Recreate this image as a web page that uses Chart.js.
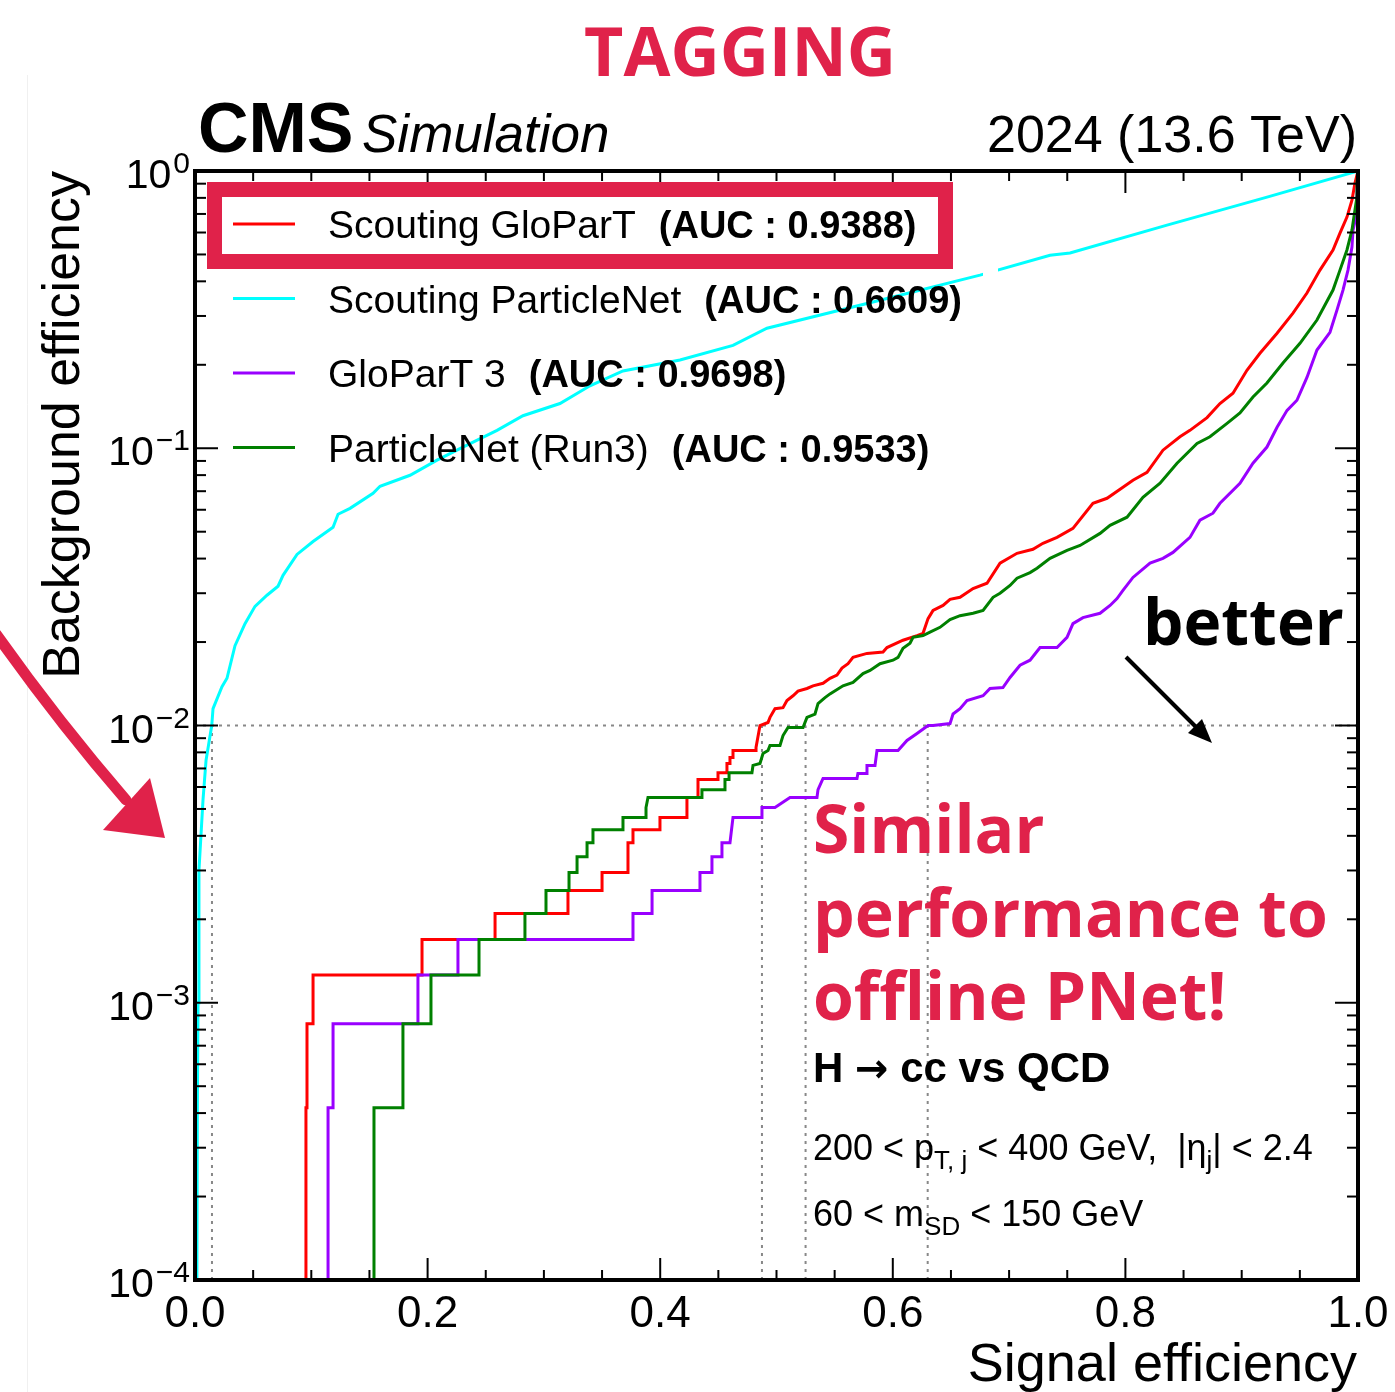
<!DOCTYPE html>
<html>
<head>
<meta charset="utf-8">
<script src="https://cdn.jsdelivr.net/npm/chart.js@4.4.1/dist/chart.umd.min.js"></script>
<style>
	html, body { margin: 0; padding: 0; background: #fff; }
	#wrap { width: 1395px; height: 1392px; }
</style>
</head>
<body>
<div id="wrap"><canvas id="rocCurves" width="1395" height="1392"></canvas></div>
<script>
'use strict'

// ROC curves, H->cc vs QCD. Signal efficiency on x, background efficiency on y (log).
// 1e-5 marks "no background left" (below the plotted range).

const scoutGloParTSig = [0.0954, 0.0954, 0.0963, 0.0963, 0.1015, 0.1015, 0.1952, 0.1952, 0.2580, 0.2580, 0.3207, 0.3207, 0.3500, 0.3500, 0.3723, 0.3723, 0.3766, 0.3766, 0.3998, 0.3998, 0.4230, 0.4230, 0.4325, 0.4325, 0.4497, 0.4497, 0.4574, 0.4574, 0.4600, 0.4600, 0.4626, 0.4626, 0.4824, 0.4824,
	0.4858, 0.4927, 0.4944, 0.4987, 0.5056, 0.5090, 0.5142, 0.5185, 0.5262, 0.5314, 0.5400, 0.5460, 0.5520, 0.5563, 0.5615, 0.5658, 0.5778, 0.5916, 0.5950, 0.6088, 0.6208, 0.6260, 0.6303, 0.6346, 0.6432, 0.6492, 0.6578, 0.6690, 0.6810, 0.6922,
	0.7068, 0.7205, 0.7291, 0.7412, 0.7549, 0.7721, 0.7842, 0.7979, 0.8065, 0.8186, 0.8323, 0.8469, 0.8555, 0.8702, 0.8813, 0.8925, 0.9045, 0.9157, 0.9304, 0.9441, 0.9561, 0.9673, 0.9785, 0.9845, 0.9905, 0.9948, 0.9974, 1.0];
const scoutGloParTBkg = [1e-5, 4.18e-4, 4.18e-4, 8.40e-4, 8.40e-4, 1.26e-3, 1.26e-3, 1.69e-3, 1.69e-3, 2.10e-3, 2.10e-3, 2.54e-3, 2.54e-3, 2.95e-3, 2.95e-3, 3.78e-3, 3.78e-3, 4.21e-3, 4.21e-3, 4.66e-3, 4.66e-3, 5.50e-3, 5.50e-3, 6.38e-3, 6.38e-3, 6.76e-3, 6.76e-3, 7.29e-3, 7.29e-3, 7.66e-3, 7.66e-3, 8.12e-3, 8.12e-3, 8.33e-3,
	1.0e-2, 1.025e-2, 1.07e-2, 1.15e-2, 1.16e-2, 1.23e-2, 1.28e-2, 1.33e-2, 1.36e-2, 1.39e-2, 1.42e-2, 1.48e-2, 1.52e-2, 1.61e-2, 1.67e-2, 1.76e-2, 1.82e-2, 1.84e-2, 1.91e-2, 2.03e-2, 2.11e-2, 2.15e-2, 2.43e-2, 2.60e-2, 2.71e-2, 2.85e-2, 2.90e-2, 3.12e-2, 3.26e-2, 3.85e-2,
	4.18e-2, 4.32e-2, 4.54e-2, 4.77e-2, 5.14e-2, 6.33e-2, 6.60e-2, 7.23e-2, 7.67e-2, 8.19e-2, 9.84e-2, 0.110, 0.116, 0.129, 0.145, 0.158, 0.191, 0.220, 0.260, 0.307, 0.363, 0.439, 0.519, 0.597, 0.682, 0.785, 0.905, 1.0];

const scoutPNetSig = [0.001, 0.002, 0.0026, 0.0034, 0.0069, 0.0095, 0.0144, 0.0155, 0.0232, 0.0275, 0.0344, 0.0430, 0.0516, 0.0619, 0.0714, 0.0757, 0.0877, 0.1015, 0.1187, 0.1230,
	0.1333, 0.1531, 0.1591, 0.1849, 0.2081, 0.2304, 0.2597, 0.2820, 0.3138, 0.3396, 0.3680, 0.4170, 0.4626, 0.4918, 0.5890, 0.6750, 0.7352, 0.7524, 0.8358, 0.9218, 1.0];
const scoutPNetBkg = [1e-5, 4e-4, 1e-3, 3.0e-3, 5.4e-3, 7.5e-3, 1.0e-2, 1.15e-2, 1.38e-2, 1.48e-2, 1.94e-2, 2.33e-2, 2.69e-2, 2.95e-2, 3.18e-2, 3.48e-2, 4.14e-2, 4.61e-2, 5.19e-2, 5.78e-2,
	6.07e-2, 6.88e-2, 7.29e-2, 7.99e-2, 9.06e-2, 0.101, 0.116, 0.131, 0.145, 0.168, 0.190, 0.208, 0.235, 0.271, 0.342, 0.421, 0.497, 0.506, 0.638, 0.805, 1.0];

const gloParT3Sig = [0.1144, 0.1144, 0.1187, 0.1187, 0.1917, 0.1917, 0.2261, 0.2261, 0.3766, 0.3766, 0.3930, 0.3930, 0.4342, 0.4342, 0.4445, 0.4445, 0.4531, 0.4531, 0.4600, 0.4626, 0.4875, 0.4875, 0.4987, 0.5116,
	0.5348, 0.5357, 0.5400, 0.5692, 0.5700, 0.5778, 0.5778, 0.5847, 0.5864, 0.6045, 0.6122, 0.6208, 0.6303, 0.6346, 0.6492, 0.6518, 0.6578, 0.6638, 0.6776, 0.6836, 0.6947, 0.7008, 0.7094, 0.7180, 0.7266, 0.7412,
	0.7498, 0.7549, 0.7635, 0.7782, 0.7868, 0.7928, 0.7979, 0.8065, 0.8212, 0.8323, 0.8409, 0.8555, 0.8641, 0.8753, 0.8813, 0.8985, 0.9097, 0.9217, 0.9304, 0.9390, 0.9475, 0.9561, 0.9647, 0.9759, 0.9819, 0.9871, 0.9914, 0.9948, 0.9957, 0.9983, 1.0];
const gloParT3Bkg = [1e-5, 4.18e-4, 4.18e-4, 8.40e-4, 8.40e-4, 1.26e-3, 1.26e-3, 1.69e-3, 1.69e-3, 2.10e-3, 2.10e-3, 2.54e-3, 2.54e-3, 2.95e-3, 2.95e-3, 3.36e-3, 3.36e-3, 3.78e-3, 3.78e-3, 4.66e-3, 4.66e-3, 5.06e-3, 5.06e-3, 5.50e-3,
	5.50e-3, 5.87e-3, 6.44e-3, 6.44e-3, 6.71e-3, 6.71e-3, 7.18e-3, 7.18e-3, 8.12e-3, 8.12e-3, 8.83e-3, 9.36e-3, 1.0e-2, 1.0e-2, 1.016e-2, 1.10e-2, 1.15e-2, 1.23e-2, 1.28e-2, 1.36e-2, 1.37e-2, 1.49e-2, 1.65e-2, 1.72e-2, 1.91e-2, 1.91e-2,
	2.08e-2, 2.33e-2, 2.45e-2, 2.54e-2, 2.71e-2, 2.87e-2, 3.07e-2, 3.42e-2, 3.85e-2, 4.01e-2, 4.21e-2, 4.77e-2, 5.50e-2, 5.83e-2, 6.33e-2, 7.48e-2, 8.83e-2, 0.101, 0.119, 0.137, 0.149, 0.180, 0.226, 0.262, 0.315, 0.372, 0.439, 0.532, 0.612, 0.682, 1.0];

const pNetRun3Sig = [0.1539, 0.1539, 0.1788, 0.1788, 0.2029, 0.2029, 0.2442, 0.2442, 0.2837, 0.2837, 0.3018, 0.3018, 0.3216, 0.3216, 0.3285, 0.3285, 0.3371, 0.3371, 0.3422, 0.3422, 0.3680, 0.3680, 0.3878, 0.3878, 0.3895,
	0.4359, 0.4359, 0.4557, 0.4557, 0.4592, 0.4592, 0.4789, 0.4798, 0.4858, 0.4884, 0.4927, 0.4944, 0.5030, 0.5056, 0.5099, 0.5228, 0.5262, 0.5331, 0.5357, 0.5417, 0.5460, 0.5572, 0.5658, 0.5744, 0.5804, 0.5890,
	0.6002, 0.6045, 0.6088, 0.6148, 0.6174, 0.6260, 0.6320, 0.6406, 0.6492, 0.6578, 0.6690, 0.6776, 0.6862, 0.6922, 0.7008, 0.7068, 0.7180, 0.7240, 0.7352, 0.7498, 0.7610, 0.7782, 0.7868, 0.8014, 0.8151,
	0.8298, 0.8444, 0.8616, 0.8727, 0.8874, 0.8985, 0.9097, 0.9217, 0.9355, 0.9501, 0.9647, 0.9785, 0.9845, 0.9905, 0.9948, 0.9974, 0.9991, 0.9991, 1.0];
const pNetRun3Bkg = [1e-5, 4.18e-4, 4.18e-4, 8.40e-4, 8.40e-4, 1.26e-3, 1.26e-3, 1.69e-3, 1.69e-3, 2.10e-3, 2.10e-3, 2.54e-3, 2.54e-3, 2.95e-3, 2.95e-3, 3.36e-3, 3.36e-3, 3.78e-3, 3.78e-3, 4.21e-3, 4.21e-3, 4.66e-3, 4.66e-3, 5.06e-3, 5.50e-3,
	5.50e-3, 5.87e-3, 5.87e-3, 6.38e-3, 6.38e-3, 6.76e-3, 6.76e-3, 7.18e-3, 7.29e-3, 7.92e-3, 8.12e-3, 8.47e-3, 8.47e-3, 9.20e-3, 9.84e-3, 9.84e-3, 1.07e-2, 1.10e-2, 1.20e-2, 1.26e-2, 1.30e-2, 1.39e-2, 1.43e-2, 1.54e-2, 1.58e-2, 1.67e-2,
	1.72e-2, 1.76e-2, 1.90e-2, 1.98e-2, 2.08e-2, 2.11e-2, 2.17e-2, 2.26e-2, 2.41e-2, 2.49e-2, 2.54e-2, 2.60e-2, 2.90e-2, 3.00e-2, 3.20e-2, 3.40e-2, 3.56e-2, 3.69e-2, 4.01e-2, 4.28e-2, 4.46e-2, 4.93e-2, 5.27e-2, 5.64e-2, 6.65e-2,
	7.48e-2, 8.83e-2, 0.104, 0.110, 0.123, 0.134, 0.153, 0.172, 0.203, 0.239, 0.290, 0.372, 0.439, 0.519, 0.612, 0.723, 0.806, 0.905, 1.0];

// working point: signal efficiency of each tagger at 1% background
const wpBkg = 0.01;
const wpSig = [0.0146, 0.4875, 0.525, 0.630];

const legendNames = ['Scouting GloParT', 'Scouting ParticleNet', 'GloParT 3', 'ParticleNet (Run3)'];
const legendAuc = ['0.9388', '0.6609', '0.9698', '0.9533'];
const legendColors = ['#ff0000', '#00ffff', '#9900ff', '#008000'];

const xTicks = [0, 0.2, 0.4, 0.6, 0.8, 1.0];
const xTickLabels = ['0.0', '0.2', '0.4', '0.6', '0.8', '1.0'];
const yTicks = [1, 1e-1, 1e-2, 1e-3, 1e-4];
const yTickExps = ['0', '\u22121', '\u22122', '\u22123', '\u22124'];

const HELV = '"Liberation Sans", Arial, Helvetica, sans-serif';
const SANS = '"Open Sans", "Noto Sans", sans-serif';
const accent = '#e0224a';

const toPoints = (xs, ys) => xs.map((v, i) => ({ x: v, y: ys[i] }));

const curves = [
	{ sig: scoutGloParTSig, bkg: scoutGloParTBkg, order: 3 },
	{ sig: scoutPNetSig, bkg: scoutPNetBkg, order: 2 },
	{ sig: gloParT3Sig, bkg: gloParT3Bkg, order: 1 },
	{ sig: pNetRun3Sig, bkg: pNetRun3Bkg, order: 0 },
];

const datasets = [];

// dotted guide lines for the 1% working point
datasets.push({
	data: [{ x: 0, y: wpBkg }, { x: 1, y: wpBkg }],
	borderColor: '#888', borderWidth: 2, borderDash: [3, 5], order: 10,
});
wpSig.forEach(s => {
	datasets.push({
		data: [{ x: s, y: 1e-4 }, { x: s, y: wpBkg }],
		borderColor: '#888', borderWidth: 2, borderDash: [3, 5], order: 10,
	});
});

curves.forEach((c, i) => {
	datasets.push({
		label: legendNames[i],
		data: toPoints(c.sig, c.bkg),
		borderColor: legendColors[i],
		borderWidth: 3,
		order: c.order,
	});
});

function seg(ctx, x1, y1, x2, y2) {
	ctx.beginPath();
	ctx.moveTo(x1, y1);
	ctx.lineTo(x2, y2);
	ctx.stroke();
}

function richText(ctx, x, y, parts) {
	let cx = x;
	parts.forEach(p => {
		ctx.font = p.font;
		ctx.fillText(p.text, cx, y + (p.dy || 0));
		cx += ctx.measureText(p.text).width;
	});
}

const rocDecor = {
	id: 'rocDecor',
	afterDraw(chart) {
		const { ctx, chartArea: { left, right, top, bottom }, scales: { x, y } } = chart;
		ctx.save();

		// edge of the pasted panel
		ctx.strokeStyle = '#f0f0f0';
		ctx.lineWidth = 1;
		seg(ctx, 27.5, 75, 27.5, 1392);

		// small white patch next to the legend
		ctx.fillStyle = '#fff';
		ctx.fillRect(983, 257, 15, 71);

		// frame
		ctx.strokeStyle = '#000';
		ctx.lineWidth = 4;
		ctx.strokeRect(left, top, right - left, bottom - top);

		// inward ticks
		ctx.lineWidth = 2;
		for (let i = 0; i <= 20; i++) {
			const px = x.getPixelForValue(i * 0.05);
			const len = i % 4 === 0 ? 22 : 10;
			seg(ctx, px, bottom, px, bottom - len);
			seg(ctx, px, top, px, top + len);
		}
		for (let d = -4; d <= 0; d++) {
			for (let k = 1; k <= 9; k++) {
				const v = k * Math.pow(10, d);
				if (v > 1) break;
				const py = y.getPixelForValue(v);
				const len = k === 1 ? 23 : 11;
				seg(ctx, left, py, left + len, py);
				seg(ctx, right, py, right - len, py);
			}
		}

		ctx.fillStyle = '#000';
		ctx.textBaseline = 'alphabetic';

		// x tick labels
		ctx.font = '44px ' + HELV;
		ctx.textAlign = 'center';
		xTicks.forEach((v, i) => ctx.fillText(xTickLabels[i], x.getPixelForValue(v), 1327));

		// y tick labels, 10 with exponent
		ctx.textAlign = 'left';
		yTicks.forEach((v, i) => {
			const py = y.getPixelForValue(v);
			ctx.font = '30px ' + HELV;
			const ew = ctx.measureText(yTickExps[i]).width;
			ctx.fillText(yTickExps[i], 190 - ew, py + 2);
			ctx.font = '41px ' + HELV;
			const bw = ctx.measureText('10').width;
			ctx.fillText('10', 190 - ew - bw - 2, py + 17);
		});

		// axis titles
		ctx.font = '54px ' + HELV;
		ctx.textAlign = 'right';
		ctx.fillText('Signal efficiency', 1357, 1381);
		ctx.font = '52px ' + HELV;
		ctx.save();
		ctx.translate(79, top);
		ctx.rotate(-Math.PI / 2);
		ctx.fillText('Background efficiency', 0, 0);
		ctx.restore();

		// header
		ctx.textAlign = 'left';
		ctx.font = 'bold 70px ' + HELV;
		ctx.fillText('CMS', 198, 152);
		ctx.font = 'italic 53px ' + HELV;
		ctx.fillText('Simulation', 362, 152);
		ctx.textAlign = 'right';
		ctx.font = '52px ' + HELV;
		ctx.fillText('2024 (13.6 TeV)', 1357, 152);

		ctx.fillStyle = accent;
		ctx.textAlign = 'center';
		ctx.font = 'bold 68px ' + SANS;
		ctx.fillText('TAGGING', 740, 76);

		// legend
		ctx.textAlign = 'left';
		legendNames.forEach((name, i) => {
			const ly = 224 + i * 74.5;
			ctx.strokeStyle = legendColors[i];
			ctx.lineWidth = 3;
			seg(ctx, 233, ly, 295, ly);
			ctx.fillStyle = '#000';
			ctx.font = '39px ' + HELV;
			ctx.fillText(name, 328, ly + 14);
			const w = ctx.measureText(name).width;
			ctx.font = 'bold 38px ' + HELV;
			ctx.fillText('(AUC : ' + legendAuc[i] + ')', 328 + w + 23, ly + 14);
		});

		// highlight around the first legend entry
		ctx.strokeStyle = accent;
		ctx.lineWidth = 15;
		ctx.strokeRect(214.5, 189.5, 731, 72);

		// process and selection
		ctx.fillStyle = '#000';
		richText(ctx, 813, 1082, [
			{ text: 'H ', font: 'bold 42px ' + HELV },
			{ text: '\u2192', font: 'bold 40px "DejaVu Sans", sans-serif' },
			{ text: ' cc vs QCD', font: 'bold 42px ' + HELV },
		]);
		const big = '36px ' + HELV, small = '26px ' + HELV;
		richText(ctx, 813, 1160, [
			{ text: '200 < p', font: big },
			{ text: 'T, j', font: small, dy: 9 },
			{ text: ' < 400 GeV,  |\u03b7', font: big },
			{ text: 'j', font: small, dy: 9 },
			{ text: '| < 2.4', font: big },
		]);
		richText(ctx, 813, 1226, [
			{ text: '60 < m', font: big },
			{ text: 'SD', font: small, dy: 9 },
			{ text: ' < 150 GeV', font: big },
		]);

		// annotations
		ctx.fillStyle = accent;
		ctx.font = 'bold 66px ' + SANS;
		ctx.fillText('Similar', 813, 853);
		ctx.fillText('performance to', 813, 937);
		ctx.fillText('offline PNet!', 813, 1020);

		ctx.fillStyle = '#000';
		ctx.font = 'bold 64px ' + SANS;
		ctx.fillText('better', 1143, 645);
		ctx.strokeStyle = '#000';
		ctx.lineWidth = 4;
		seg(ctx, 1126, 657, 1200, 731);
		ctx.beginPath();
		ctx.moveTo(1212, 743);
		ctx.lineTo(1188, 733);
		ctx.lineTo(1202, 719);
		ctx.closePath();
		ctx.fill();

		// hand-drawn arrow on the left
		ctx.strokeStyle = accent;
		ctx.fillStyle = accent;
		ctx.lineCap = 'round';
		ctx.lineWidth = 11;
		ctx.beginPath();
		ctx.moveTo(-4, 634);
		ctx.quadraticCurveTo(60, 724, 126, 800);
		ctx.stroke();
		ctx.beginPath();
		ctx.moveTo(103, 830);
		ctx.lineTo(150, 778);
		ctx.lineTo(165, 838);
		ctx.closePath();
		ctx.fill();

		ctx.restore();
	},
};

new Chart(document.getElementById('rocCurves'), {
	type: 'line',
	data: { datasets },
	options: {
		responsive: false,
		animation: false,
		devicePixelRatio: 1,
		layout: { padding: { left: 195, right: 37, top: 171, bottom: 112 } },
		elements: { point: { radius: 0 }, line: { tension: 0 } },
		scales: {
			x: { type: 'linear', min: 0, max: 1, display: false },
			y: { type: 'logarithmic', min: 1e-4, max: 1, display: false },
		},
		plugins: {
			legend: { display: false },
			tooltip: { enabled: false },
		},
	},
	plugins: [rocDecor],
});
</script>
</body>
</html>
